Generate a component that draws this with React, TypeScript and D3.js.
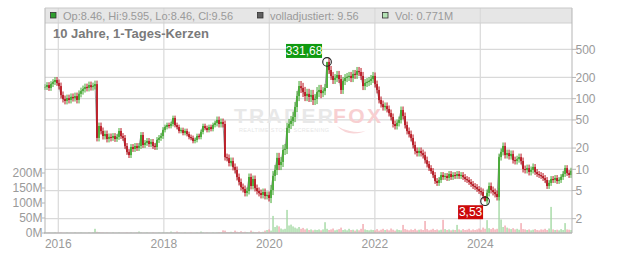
import React from "react";
import * as d3 from "d3";

// Closing prices, one candle every ~two weeks from Oct 2015 to Sep 2025
const closes: number[] = [
  146, 156, 142, 161, 172, 184, 167, 151, 113, 99, 93, 102, 96, 106, 102, 109, 96, 117, 128, 137, 146, 142, 156, 146, 151, 161,
  27.8, 41, 34.9, 29.6, 31.6, 26.9, 28.7, 27.8, 29.6, 26.9, 28.7, 34.9, 29.6, 27.8, 21.4, 17.6, 15.9, 20.7, 19.4, 21.4, 20.0, 21.4,
  30.6, 22.1, 23.6, 25.2, 22.8, 24.4, 21.4, 20.7, 26.0, 27.8, 29.6, 36.0, 39.7, 42.4, 41.0, 43.8, 53.3, 42.4, 39.7, 34.9, 36.0, 32.7,
  34.9, 31.6, 28.7, 27.8, 25.2, 26.0, 29.6, 28.7, 33.8, 41.0, 38.5, 36.0, 39.7, 37.2, 42.4, 45.3, 49.9, 43.8, 46.8, 43.8,
  14.9, 14.5, 12.3, 13.1, 10.8, 9.78, 7.78, 6.61, 5.61, 5.26, 4.62, 4.93, 7.78, 5.8, 7.29, 5.43, 4.93, 4.62, 4.33, 4.77,
  4.19, 4.33, 3.92, 5.09, 8.04, 9.78, 14.5, 11.5, 12.7, 18.8, 19.4, 38.5, 43.8, 48.3, 55.1, 76.2, 109, 151, 142, 124.5, 109, 117,
  106, 113, 96, 99, 124, 133, 120, 128, 142, 331.68, 255, 210, 184, 196, 217, 190, 133, 178, 196, 203, 210, 196, 224, 217, 247,
  239, 210, 151, 167, 172, 178, 190, 210, 161, 133, 96, 84, 76, 79, 71.5, 62.7, 55.1, 43.8, 41.0, 45.3, 49.9, 69.2, 56.9, 42.4,
  34.9, 31.6, 27.8, 22.1, 18.2, 17.0, 18.2, 17.0, 15.9, 13.5, 11.9, 10.4, 9.46, 8.3, 6.83, 6.4, 7.05, 8.3, 7.78, 8.04, 7.53,
  8.58, 7.78, 8.3, 8.04, 8.58, 8.04, 8.3, 7.78, 7.29, 7.05, 6.61, 6.19, 5.8, 5.61, 5.26, 4.93, 4.77, 4.19, 3.53, 4.62, 5.8,
  5.09, 4.77, 4.47, 4.05, 14.9, 17.6, 21.4, 15.9, 17.0, 15.4, 16.5, 13.5, 13.1, 13.9, 14.9, 13.1, 10.1, 9.78, 10.4, 9.16, 9.78,
  10.8, 9.16, 8.58, 8.3, 8.04, 7.53, 7.05, 5.8, 6.4, 7.29, 7.05, 7.53, 6.83, 7.05, 7.78, 8.58, 10.4, 8.86, 8.3, 9.56,
];

// Traded volume per candle, in millions of shares
const volumes: number[] = [
  2, 1, 2, 1, 1, 2, 1, 1, 2, 1, 1, 2, 1, 1, 1, 2, 1, 1, 2, 1, 1, 1, 2, 1, 2,
  14,
  4, 3, 2, 2, 1, 2, 1, 1, 2, 1, 1, 2, 1, 1, 1, 2, 1, 2, 1, 1, 2,
  5,
  2, 1, 1, 2, 1, 1, 2, 1, 1, 2, 1, 2, 1, 2, 1,
  5, 2, 2, 5,
  2, 1, 1, 2, 1, 1, 2, 1, 1, 2, 1,
  5,
  2, 1, 2, 1, 1, 2, 1, 2, 3, 2,
  9, 8, 3, 3, 4, 3, 8, 4, 3, 6, 3, 4, 3, 2, 8, 4, 3, 3, 5, 3, 4,
  8, 10, 12, 8, 57, 20, 25, 22, 15, 12, 14, 77, 25, 28, 22, 18, 15, 20, 14, 17, 12, 15, 10, 12, 9, 11, 10, 12,
  9, 12, 36, 14, 10, 12, 15, 9, 11, 13, 18, 10, 12, 9, 14, 10, 11, 8, 12, 9, 14, 30, 12, 10, 9, 11,
  10, 9, 13, 8, 11, 14, 10, 12, 9, 15, 11, 8, 12, 10, 9, 27, 13, 11, 9, 12, 10, 14, 9, 11, 12, 10,
  40, 13, 9, 11, 14, 10, 12, 9, 11, 44, 13, 10, 12, 9, 11, 10, 27, 12, 9, 13, 10, 11, 14, 9, 12, 10,
  12, 15, 11, 18, 14, 43, 16, 13, 17, 12, 14, 150, 45, 20, 25, 18, 15, 13, 16, 12, 14, 11, 33, 13, 12,
  10, 12, 9, 11, 13, 10, 9, 12, 11, 14, 10, 15, 87, 12, 10, 11, 9, 13, 10, 33, 12, 11, 10,
];

// Typical trading range (high/low spread around each candle body) by calendar year
const rangeYears = [2015, 2016, 2017, 2018, 2019, 2020, 2021, 2022, 2023, 2024, 2025];
const rangeFactors = [1.1, 1.12, 1.1, 1.08, 1.12, 1.18, 1.14, 1.12, 1.1, 1.12, 1.1];

const priceTicks = [2, 5, 10, 20, 50, 100, 200, 500];
const volumeTicks = [0, 50, 100, 150, 200];
const yearTicks = [2016, 2018, 2020, 2022, 2024];

const highMark = { index: 141, label: "331,68" };
const lowMark = { index: 220, label: "3,53" };

const legendItems = [
  { text: "Op:8.46, Hi:9.595, Lo:8.46, Cl:9.56", color: "#2e9e2e", x: 50 },
  { text: "volladjustiert: 9.56", color: "#606060", x: 257 },
  { text: "Vol: 0.771M", color: "#b4e2b4", x: 382 },
];

const W = 632;
const H = 253;
const left = 45;
const right = 572;
const top = 8;
const bottom = 233;
const font = "'Liberation Sans', Arial, Helvetica, sans-serif";
const labelColor = "#9a9a9a";
const gridColor = "#d9d9d9";
const upColor = "#40a82e";
const downColor = "#b8111c";

const start = new Date(2015, 9, 1);
const stepDays = 13.85;
const candleDate = (i: number) => new Date(start.getTime() + i * stepDays * 864e5);

export default function App() {
  const x = d3.scaleTime().domain([start, new Date(2025, 8, 27)]).range([left, right]);
  const y = d3.scaleLog().domain([10, 100]).range([169.3, 98.7]);
  const yv = d3.scaleLinear().domain([0, 200]).range([bottom, 173]);

  const n = Math.min(closes.length, volumes.length);
  const candles = d3.range(n).map((i) => {
    const date = candleDate(i);
    const open = i > 0 ? closes[i - 1] : closes[0];
    const close = closes[i];
    const k = rangeYears.indexOf(date.getFullYear());
    const f = k >= 0 ? rangeFactors[k] : 1.1;
    const special = i === highMark.index || i === lowMark.index;
    const high = i === highMark.index ? close : Math.max(open, close) * (special ? 1 : f);
    const low = i === lowMark.index ? close : Math.min(open, close) / (special ? 1 : f);
    return { i, date, open, close, high, low, up: close >= open, vol: volumes[i] };
  });

  const line = d3
    .line<(typeof candles)[number]>()
    .x((d) => x(d.date))
    .y((d) => y(d.close));

  const hi = candles[highMark.index];
  const lo = candles[lowMark.index];
  const hx = x(hi.date);
  const hy = y(hi.close);
  const lx = x(lo.date);
  const ly = y(lo.close);

  return (
    <svg
      width={W}
      height={H}
      style={{ position: "absolute", left: 0, top: 0, background: "#fff" }}
      fontFamily={font}
    >
      {/* header band */}
      <rect x={left} y={top} width={right - left} height={15} fill="#e6e6e6" />

      {/* vertical grid */}
      {yearTicks.map((yr) => {
        const gx = x(new Date(yr, 0, 1));
        return <line key={yr} x1={gx} x2={gx} y1={top} y2={bottom} stroke={gridColor} strokeWidth={1.2} />;
      })}
      {/* horizontal grid */}
      {priceTicks.map((p) => (
        <line key={p} x1={left} x2={right} y1={y(p)} y2={y(p)} stroke={gridColor} strokeWidth={1.2} />
      ))}
      <line x1={left} x2={right} y1={23} y2={23} stroke="#d0d0d0" />

      {/* watermark */}
      <g>
        <text x={234} y={123} fontSize={21} fontWeight="bold" fill="#e8e8e8" textLength={99} lengthAdjust="spacing">
          TRADER
        </text>
        <text x={333} y={123} fontSize={21} fontWeight="bold" fill="#f8cfd1" textLength={48} lengthAdjust="spacing">
          FOX
        </text>
        <text x={239} y={132} fontSize={5.5} fill="#e6e6e6" textLength={90} lengthAdjust="spacing">
          REALTIME STOCK SCREENING
        </text>
        <path d="M337,126 Q350,140 372,128 Q362,134 350,131 Q343,130 337,126 Z" fill="#f8d6d8" />
      </g>

      {/* volume */}
      {candles.map((d) => {
        const vy = yv(d.vol);
        return (
          <rect
            key={"v" + d.i}
            x={x(d.date) - 0.7}
            y={vy}
            width={1.4}
            height={bottom - vy}
            fill={d.up ? "#a3d9a3" : "#f2a7ae"}
          />
        );
      })}

      {/* adjusted close line */}
      <path d={line(candles) ?? ""} fill="none" stroke="#9a9a9a" strokeWidth={1} />

      {/* candles */}
      {candles.map((d) => {
        const cx = x(d.date);
        const y1 = y(Math.max(d.open, d.close));
        const y2 = y(Math.min(d.open, d.close));
        const col = d.up ? upColor : downColor;
        return (
          <g key={"c" + d.i}>
            <line x1={cx} x2={cx} y1={y(d.high)} y2={y(d.low)} stroke={col} strokeWidth={1} />
            <rect x={cx - 0.8} y={y1} width={1.6} height={Math.max(1, y2 - y1)} fill={col} />
          </g>
        );
      })}

      {/* frame */}
      <line x1={left} x2={left} y1={top} y2={bottom} stroke="#b5b5b5" />
      <line x1={right} x2={right} y1={top} y2={bottom} stroke="#b5b5b5" />
      <line x1={left} x2={right} y1={top} y2={top} stroke="#c8c8c8" />
      <line x1={left - 1} x2={right} y1={bottom} y2={bottom} stroke="#b5b5b5" strokeWidth={1.5} />

      {/* price axis */}
      {priceTicks.map((p) => (
        <g key={"p" + p}>
          <line x1={right} x2={right + 4} y1={y(p)} y2={y(p)} stroke="#b5b5b5" />
          <text x={right + 3.5} y={y(p) + 4.3} fontSize={12} fill={labelColor}>
            {p}
          </text>
        </g>
      ))}

      {/* volume axis */}
      {volumeTicks.map((v) => (
        <g key={"vt" + v}>
          <line x1={left - 3} x2={left} y1={yv(v)} y2={yv(v)} stroke="#b5b5b5" />
          <text x={left - 2.5} y={yv(v) + 4.3} fontSize={12} fill={labelColor} textAnchor="end">
            {v}M
          </text>
        </g>
      ))}

      {/* time axis */}
      {yearTicks.map((yr) => (
        <text key={"y" + yr} x={x(new Date(yr, 0, 1))} y={248} fontSize={12} fill={labelColor} textAnchor="middle">
          {yr}
        </text>
      ))}

      {/* legend */}
      {legendItems.map((it) => (
        <g key={it.text}>
          <rect x={it.x + 0.5} y={12.5} width={5.5} height={5.5} fill={it.color} stroke="#333" strokeWidth={0.8} />
          <text x={it.x + 13} y={20} fontSize={11} fill={labelColor}>
            {it.text}
          </text>
        </g>
      ))}

      <text x={53} y={38} fontSize={13} fontWeight="bold" fill="#7a7a7a">
        10 Jahre, 1-Tages-Kerzen
      </text>

      {/* extreme markers */}
      <circle cx={hx} cy={hy} r={4.3} fill="none" stroke="#222" strokeWidth={1.1} />
      <rect x={hx - 41} y={hy - 18} width={36} height={14} fill="#109a10" />
      <text x={hx - 23} y={hy - 6.8} fontSize={12} fill="#fff" textAnchor="middle">
        {highMark.label}
      </text>

      <circle cx={lx} cy={ly} r={4.3} fill="none" stroke="#222" strokeWidth={1.1} />
      <rect x={lx - 27} y={ly + 4} width={25} height={14} fill="#cc0a0a" />
      <text x={lx - 14.5} y={ly + 15.2} fontSize={12} fill="#fff" textAnchor="middle">
        {lowMark.label}
      </text>
    </svg>
  );
}
